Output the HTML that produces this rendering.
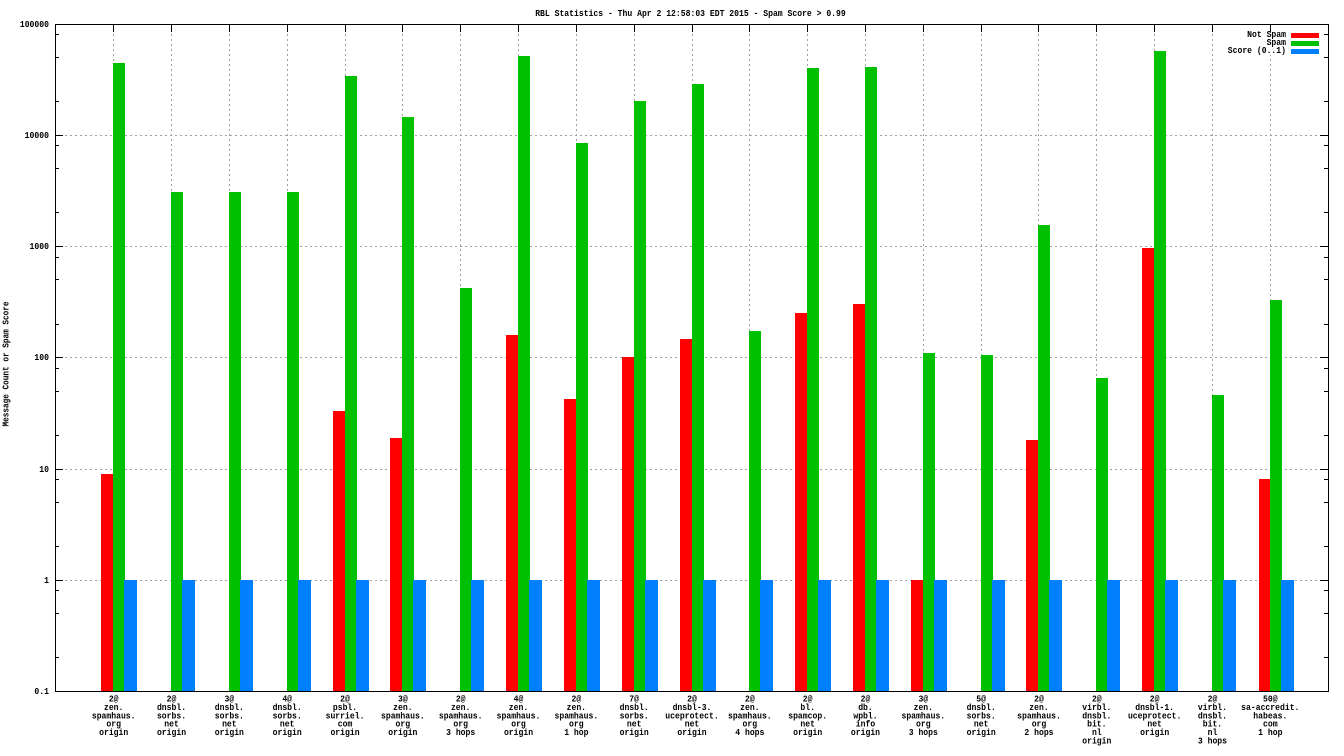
<!DOCTYPE html>
<html><head><meta charset="utf-8"><style>
html,body{margin:0;padding:0;background:#fff;}
svg{display:block;}
text{font-family:"Liberation Mono",monospace;font-size:9px;font-weight:bold;fill:#000;}
</style></head><body>
<svg width="1344" height="756" viewBox="0 0 1344 756" xmlns="http://www.w3.org/2000/svg">
<rect width="1344" height="756" fill="#fff"/>
<!-- grid -->
<g stroke="#a0a0a0" stroke-width="1" stroke-dasharray="2,3" shape-rendering="crispEdges">
<path d="M55 135.5H1328M55 246.5H1328M55 357.5H1328M55 469.5H1328M55 580.5H1328"/>
<path d="M113.5 24V691M171.5 24V691M229.5 24V691M287.5 24V691M345.5 24V691M402.5 24V691M460.5 24V691M518.5 24V691M576.5 24V691M634.5 24V691M692.5 24V691M749.5 24V691M807.5 24V691M865.5 24V691M923.5 24V691M981.5 24V691M1038.5 24V691M1096.5 24V691M1154.5 24V691M1212.5 24V691M1270.5 24V691"/>
</g>
<!-- legend mask -->
<rect x="1222" y="32" width="100" height="23" fill="#fff"/>
<!-- ticks -->
<g stroke="#000" stroke-width="1" shape-rendering="crispEdges">
<path d="M55 24.5H63M55 135.5H63M55 246.5H63M55 357.5H63M55 469.5H63M55 580.5H63M55 691.5H63"/>
<path d="M1320 24.5H1328M1320 135.5H1328M1320 246.5H1328M1320 357.5H1328M1320 469.5H1328M1320 580.5H1328M1320 691.5H1328"/>
<path d="M55 657.5H59M55 613.5H59M55 590.5H59M55 546.5H59M55 502.5H59M55 479.5H59M55 435.5H59M55 391.5H59M55 368.5H59M55 324.5H59M55 279.5H59M55 257.5H59M55 212.5H59M55 168.5H59M55 145.5H59M55 101.5H59M55 57.5H59M55 34.5H59"/>
<path d="M1324 657.5H1328M1324 613.5H1328M1324 590.5H1328M1324 546.5H1328M1324 502.5H1328M1324 479.5H1328M1324 435.5H1328M1324 391.5H1328M1324 368.5H1328M1324 324.5H1328M1324 279.5H1328M1324 257.5H1328M1324 212.5H1328M1324 168.5H1328M1324 145.5H1328M1324 101.5H1328M1324 57.5H1328M1324 34.5H1328"/>
<path d="M113.5 24V32M171.5 24V32M229.5 24V32M287.5 24V32M345.5 24V32M402.5 24V32M460.5 24V32M518.5 24V32M576.5 24V32M634.5 24V32M692.5 24V32M749.5 24V32M807.5 24V32M865.5 24V32M923.5 24V32M981.5 24V32M1038.5 24V32M1096.5 24V32M1154.5 24V32M1212.5 24V32M1270.5 24V32"/>
</g>
<!-- bars -->
<g shape-rendering="crispEdges">
<rect x="101" y="474" width="12" height="217" fill="#ff0000"/>
<rect x="113" y="63" width="12" height="628" fill="#00c000"/>
<rect x="124" y="580" width="13" height="111" fill="#0080ff"/>
<rect x="171" y="192" width="12" height="499" fill="#00c000"/>
<rect x="182" y="580" width="13" height="111" fill="#0080ff"/>
<rect x="229" y="192" width="12" height="499" fill="#00c000"/>
<rect x="240" y="580" width="13" height="111" fill="#0080ff"/>
<rect x="287" y="192" width="12" height="499" fill="#00c000"/>
<rect x="298" y="580" width="13" height="111" fill="#0080ff"/>
<rect x="333" y="411" width="12" height="280" fill="#ff0000"/>
<rect x="345" y="76" width="12" height="615" fill="#00c000"/>
<rect x="356" y="580" width="13" height="111" fill="#0080ff"/>
<rect x="390" y="438" width="12" height="253" fill="#ff0000"/>
<rect x="402" y="117" width="12" height="574" fill="#00c000"/>
<rect x="413" y="580" width="13" height="111" fill="#0080ff"/>
<rect x="460" y="288" width="12" height="403" fill="#00c000"/>
<rect x="471" y="580" width="13" height="111" fill="#0080ff"/>
<rect x="506" y="335" width="12" height="356" fill="#ff0000"/>
<rect x="518" y="56" width="12" height="635" fill="#00c000"/>
<rect x="529" y="580" width="13" height="111" fill="#0080ff"/>
<rect x="564" y="399" width="12" height="292" fill="#ff0000"/>
<rect x="576" y="143" width="12" height="548" fill="#00c000"/>
<rect x="587" y="580" width="13" height="111" fill="#0080ff"/>
<rect x="622" y="357" width="12" height="334" fill="#ff0000"/>
<rect x="634" y="101" width="12" height="590" fill="#00c000"/>
<rect x="645" y="580" width="13" height="111" fill="#0080ff"/>
<rect x="680" y="339" width="12" height="352" fill="#ff0000"/>
<rect x="692" y="84" width="12" height="607" fill="#00c000"/>
<rect x="703" y="580" width="13" height="111" fill="#0080ff"/>
<rect x="749" y="331" width="12" height="360" fill="#00c000"/>
<rect x="760" y="580" width="13" height="111" fill="#0080ff"/>
<rect x="795" y="313" width="12" height="378" fill="#ff0000"/>
<rect x="807" y="68" width="12" height="623" fill="#00c000"/>
<rect x="818" y="580" width="13" height="111" fill="#0080ff"/>
<rect x="853" y="304" width="12" height="387" fill="#ff0000"/>
<rect x="865" y="67" width="12" height="624" fill="#00c000"/>
<rect x="876" y="580" width="13" height="111" fill="#0080ff"/>
<rect x="911" y="580" width="12" height="111" fill="#ff0000"/>
<rect x="923" y="353" width="12" height="338" fill="#00c000"/>
<rect x="934" y="580" width="13" height="111" fill="#0080ff"/>
<rect x="981" y="355" width="12" height="336" fill="#00c000"/>
<rect x="992" y="580" width="13" height="111" fill="#0080ff"/>
<rect x="1026" y="440" width="12" height="251" fill="#ff0000"/>
<rect x="1038" y="225" width="12" height="466" fill="#00c000"/>
<rect x="1049" y="580" width="13" height="111" fill="#0080ff"/>
<rect x="1096" y="378" width="12" height="313" fill="#00c000"/>
<rect x="1107" y="580" width="13" height="111" fill="#0080ff"/>
<rect x="1142" y="248" width="12" height="443" fill="#ff0000"/>
<rect x="1154" y="51" width="12" height="640" fill="#00c000"/>
<rect x="1165" y="580" width="13" height="111" fill="#0080ff"/>
<rect x="1212" y="395" width="12" height="296" fill="#00c000"/>
<rect x="1223" y="580" width="13" height="111" fill="#0080ff"/>
<rect x="1259" y="479" width="11" height="212" fill="#ff0000"/>
<rect x="1270" y="300" width="12" height="391" fill="#00c000"/>
<rect x="1281" y="580" width="13" height="111" fill="#0080ff"/>
</g>
<!-- border -->
<rect x="55.5" y="24.5" width="1273" height="667" fill="none" stroke="#000" stroke-width="1" shape-rendering="crispEdges"/>
<!-- legend keys -->
<g shape-rendering="crispEdges">
<rect x="1291" y="33" width="28" height="5" fill="#ff0000"/>
<rect x="1291" y="41" width="28" height="5" fill="#00c000"/>
<rect x="1291" y="49" width="28" height="5" fill="#0080ff"/>
</g>
<!-- text -->
<g transform="scale(0.9 1)">
<text x="767.2" y="16" text-anchor="middle">RBL Statistics - Thu Apr  2 12:58:03 EDT 2015 - Spam Score &gt; 0.99</text>
<g text-anchor="end">
<text x="54.4" y="27">100000</text>
<text x="54.4" y="138">10000</text>
<text x="54.4" y="249">1000</text>
<text x="54.4" y="360">100</text>
<text x="54.4" y="472">10</text>
<text x="54.4" y="583">1</text>
<text x="54.4" y="694">0.1</text>
<text x="1428.9" y="37">Not Spam</text>
<text x="1428.9" y="45">Spam</text>
<text x="1428.9" y="53">Score (0..1)</text>
</g>
<g text-anchor="middle">
<text y="701.7"><tspan x="126.33">2@</tspan><tspan x="126.33" dy="8.33">zen.</tspan><tspan x="126.33" dy="8.33">spamhaus.</tspan><tspan x="126.33" dy="8.33">org</tspan><tspan x="126.33" dy="8.33">origin</tspan></text>
<text y="701.7"><tspan x="190.59">2@</tspan><tspan x="190.59" dy="8.33">dnsbl.</tspan><tspan x="190.59" dy="8.33">sorbs.</tspan><tspan x="190.59" dy="8.33">net</tspan><tspan x="190.59" dy="8.33">origin</tspan></text>
<text y="701.7"><tspan x="254.84">3@</tspan><tspan x="254.84" dy="8.33">dnsbl.</tspan><tspan x="254.84" dy="8.33">sorbs.</tspan><tspan x="254.84" dy="8.33">net</tspan><tspan x="254.84" dy="8.33">origin</tspan></text>
<text y="701.7"><tspan x="319.1">4@</tspan><tspan x="319.1" dy="8.33">dnsbl.</tspan><tspan x="319.1" dy="8.33">sorbs.</tspan><tspan x="319.1" dy="8.33">net</tspan><tspan x="319.1" dy="8.33">origin</tspan></text>
<text y="701.7"><tspan x="383.36">2@</tspan><tspan x="383.36" dy="8.33">psbl.</tspan><tspan x="383.36" dy="8.33">surriel.</tspan><tspan x="383.36" dy="8.33">com</tspan><tspan x="383.36" dy="8.33">origin</tspan></text>
<text y="701.7"><tspan x="447.61">3@</tspan><tspan x="447.61" dy="8.33">zen.</tspan><tspan x="447.61" dy="8.33">spamhaus.</tspan><tspan x="447.61" dy="8.33">org</tspan><tspan x="447.61" dy="8.33">origin</tspan></text>
<text y="701.7"><tspan x="511.87">2@</tspan><tspan x="511.87" dy="8.33">zen.</tspan><tspan x="511.87" dy="8.33">spamhaus.</tspan><tspan x="511.87" dy="8.33">org</tspan><tspan x="511.87" dy="8.33">3 hops</tspan></text>
<text y="701.7"><tspan x="576.12">4@</tspan><tspan x="576.12" dy="8.33">zen.</tspan><tspan x="576.12" dy="8.33">spamhaus.</tspan><tspan x="576.12" dy="8.33">org</tspan><tspan x="576.12" dy="8.33">origin</tspan></text>
<text y="701.7"><tspan x="640.38">2@</tspan><tspan x="640.38" dy="8.33">zen.</tspan><tspan x="640.38" dy="8.33">spamhaus.</tspan><tspan x="640.38" dy="8.33">org</tspan><tspan x="640.38" dy="8.33">1 hop</tspan></text>
<text y="701.7"><tspan x="704.63">7@</tspan><tspan x="704.63" dy="8.33">dnsbl.</tspan><tspan x="704.63" dy="8.33">sorbs.</tspan><tspan x="704.63" dy="8.33">net</tspan><tspan x="704.63" dy="8.33">origin</tspan></text>
<text y="701.7"><tspan x="768.89">2@</tspan><tspan x="768.89" dy="8.33">dnsbl-3.</tspan><tspan x="768.89" dy="8.33">uceprotect.</tspan><tspan x="768.89" dy="8.33">net</tspan><tspan x="768.89" dy="8.33">origin</tspan></text>
<text y="701.7"><tspan x="833.14">2@</tspan><tspan x="833.14" dy="8.33">zen.</tspan><tspan x="833.14" dy="8.33">spamhaus.</tspan><tspan x="833.14" dy="8.33">org</tspan><tspan x="833.14" dy="8.33">4 hops</tspan></text>
<text y="701.7"><tspan x="897.4">2@</tspan><tspan x="897.4" dy="8.33">bl.</tspan><tspan x="897.4" dy="8.33">spamcop.</tspan><tspan x="897.4" dy="8.33">net</tspan><tspan x="897.4" dy="8.33">origin</tspan></text>
<text y="701.7"><tspan x="961.66">2@</tspan><tspan x="961.66" dy="8.33">db.</tspan><tspan x="961.66" dy="8.33">wpbl.</tspan><tspan x="961.66" dy="8.33">info</tspan><tspan x="961.66" dy="8.33">origin</tspan></text>
<text y="701.7"><tspan x="1025.91">3@</tspan><tspan x="1025.91" dy="8.33">zen.</tspan><tspan x="1025.91" dy="8.33">spamhaus.</tspan><tspan x="1025.91" dy="8.33">org</tspan><tspan x="1025.91" dy="8.33">3 hops</tspan></text>
<text y="701.7"><tspan x="1090.17">5@</tspan><tspan x="1090.17" dy="8.33">dnsbl.</tspan><tspan x="1090.17" dy="8.33">sorbs.</tspan><tspan x="1090.17" dy="8.33">net</tspan><tspan x="1090.17" dy="8.33">origin</tspan></text>
<text y="701.7"><tspan x="1154.42">2@</tspan><tspan x="1154.42" dy="8.33">zen.</tspan><tspan x="1154.42" dy="8.33">spamhaus.</tspan><tspan x="1154.42" dy="8.33">org</tspan><tspan x="1154.42" dy="8.33">2 hops</tspan></text>
<text y="701.7"><tspan x="1218.68">2@</tspan><tspan x="1218.68" dy="8.33">virbl.</tspan><tspan x="1218.68" dy="8.33">dnsbl.</tspan><tspan x="1218.68" dy="8.33">bit.</tspan><tspan x="1218.68" dy="8.33">nl</tspan><tspan x="1218.68" dy="8.33">origin</tspan></text>
<text y="701.7"><tspan x="1282.93">2@</tspan><tspan x="1282.93" dy="8.33">dnsbl-1.</tspan><tspan x="1282.93" dy="8.33">uceprotect.</tspan><tspan x="1282.93" dy="8.33">net</tspan><tspan x="1282.93" dy="8.33">origin</tspan></text>
<text y="701.7"><tspan x="1347.19">2@</tspan><tspan x="1347.19" dy="8.33">virbl.</tspan><tspan x="1347.19" dy="8.33">dnsbl.</tspan><tspan x="1347.19" dy="8.33">bit.</tspan><tspan x="1347.19" dy="8.33">nl</tspan><tspan x="1347.19" dy="8.33">3 hops</tspan></text>
<text y="701.7"><tspan x="1411.44">50@</tspan><tspan x="1411.44" dy="8.33">sa-accredit.</tspan><tspan x="1411.44" dy="8.33">habeas.</tspan><tspan x="1411.44" dy="8.33">com</tspan><tspan x="1411.44" dy="8.33">1 hop</tspan></text>
</g>
</g>
<text transform="translate(8.5 364) rotate(-90) scale(0.86 1)" x="0" y="0" text-anchor="middle">Message Count or Spam Score</text>
</svg>
</body></html>
